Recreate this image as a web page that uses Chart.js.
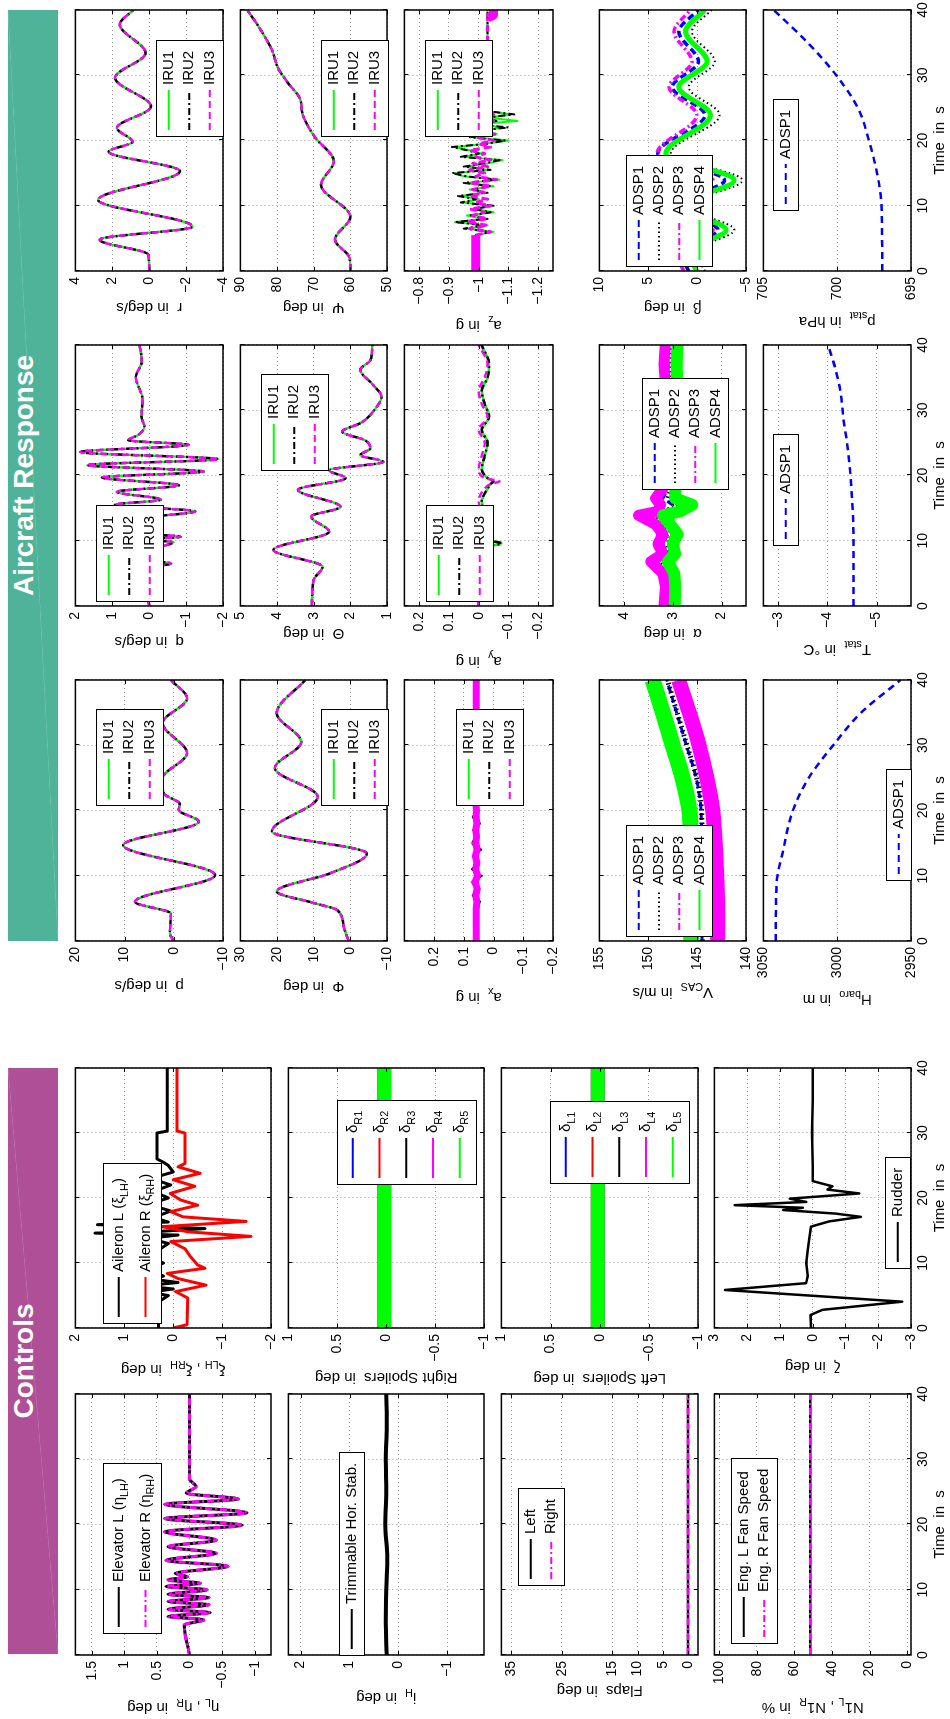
<!DOCTYPE html>
<html>
<head>
<meta charset="utf-8">
<script src="https://cdn.jsdelivr.net/npm/chart.js@4.4.1/dist/chart.umd.min.js"></script>
<style>
html, body { margin:0; padding:0; background:#fff; width:950px; height:1719px; overflow:hidden; }
#land { position:absolute; left:0; top:0; width:1719px; height:950px; transform-origin:0 0; transform:translate(0,1719px) rotate(-90deg); }
#land canvas { position:absolute; }
.ban { position:absolute; top:8px; height:50px; line-height:45px; text-align:center; color:#fff; font:bold 28px "Liberation Sans", Arial, sans-serif; }
.ban.ar { left:778px; width:931px; background:linear-gradient(to bottom right, transparent calc(50% - 0.7px), rgba(255,255,255,0.18) 50%, transparent calc(50% + 0.7px)), #4fb39a; }
.ban.ct { left:65px; width:586px; background:linear-gradient(to bottom right, transparent calc(50% - 0.7px), rgba(255,255,255,0.18) 50%, transparent calc(50% + 0.7px)), #ae4f97; }
</style>
</head>
<body>
<div id="land">
  <div class="ban ar">Aircraft Response</div>
  <div class="ban ct">Controls</div>
</div>
<script>
// ---- data (time in s) ----
const timeTicks = [0, 10, 20, 30, 40];

// aircraft response, right column
const rT = [0, 2.5, 4.8, 6.8, 10.9, 15.3, 18.3, 19.8, 21.9, 25.2, 29.6, 33.4, 37.8, 40];
const rV = [0, 0.05, 2.7, -2.35, 2.77, -1.67, 2.2, 0.9, 1.75, -0.1, 1.85, 0.2, 1.6, 0.87];
const psiT = [0, 2, 4.8, 8.3, 13.2, 16.8, 20.6, 24, 26.5, 28.8, 31, 34, 37, 40];
const psiV = [60, 60.2, 64.2, 60, 68, 64.5, 69.8, 73, 73.8, 77, 79.6, 81.5, 84.5, 88.1];
const azT = [0, 5.5, 6, 6.5, 7, 7.5, 8, 8.5, 9, 9.5, 10, 10.5, 11, 11.5, 12, 12.5, 13, 13.5, 14, 14.5, 15,
  15.5, 16, 16.5, 17, 17.5, 18, 18.5, 19, 19.5, 20, 20.5, 21, 21.5, 22, 22.5, 23, 23.5, 24, 24.5, 25, 38.8, 39.2, 40];
const azIRU1 = [-0.99, -0.99, -1.05, -0.96, -1.03, -0.92, -1.02, -0.96, -1.05, -0.99, -1.04, -0.95,
  -1.0, -0.94, -1.02, -0.97, -1.05, -0.96, -1.07, -0.95, -0.92, -1.03, -0.96, -1.03, -1.08, -0.95,
  -1.01, -0.97, -0.92, -1.02, -1.1, -0.98, -1.06, -1.01, -1.08, -1.0, -1.13, -1.03, -1.11, -1.03, -1.03, -1.03, -1.03, -1.03];
const azIRU2 = [-0.99, -0.99, -1.04, -0.95, -1.02, -0.92, -1.03, -0.97, -1.04, -0.98, -1.05, -0.94,
  -0.99, -0.93, -1.03, -0.98, -1.04, -0.95, -1.06, -0.96, -0.91, -1.04, -0.95, -1.02, -1.07, -0.94,
  -1.0, -0.96, -0.91, -1.03, -1.09, -0.97, -1.05, -1.0, -1.1, -0.99, -1.06, -1.02, -1.12, -1.03, -1.03, -1.03, -1.03, -1.03];
const azIRU3 = [-0.99, -0.99, -1.04, -0.97, -1.03, -0.96, -1.03, -0.98, -1.02, -0.97, -1.04, -0.99,
  -1.03, -0.97, -1.02, -0.98, -1.04, -0.97, -1.06, -0.99, -1.02, -0.97, -1.03, -0.98, -1.04, -0.99,
  -1.02, -0.97, -1.04, -1.0, -1.05, -0.99, -1.06, -1.0, -1.04, -1.01, -1.05, -1.02, -1.05, -1.03, -1.03, -1.03, -1.05, -1.05];
const betaT = [0, 3, 6.3, 10, 13.9, 18, 23.9, 28.2, 32.1, 36.7, 40];
const betaADSP1 = [0.87, 1.7, -2.13, 2.7, -2.8, 4.03, -0.8, 2.53, -0.13, 1.87, -0.13];
const betaADSP2 = [-0.8, 0.2, -3.8, 1.2, -4.63, 2.7, -2.3, 0.87, -1.8, 0.53, -1.47];
const betaADSP3 = [1.37, 2.2, -1.63, 3.2, -1.63, 4.1, 0.03, 2.87, 0.53, 2.37, 0.7];
const betaADSP4 = [0.03, 1.0, -2.97, 2.0, -3.8, 3.2, -1.37, 1.87, -1.03, 1.2, -0.8];
const pstT = [0, 10, 15, 20, 25, 30, 35, 40];
const pstV = [696.95, 697.0, 697.3, 697.85, 698.6, 700.07, 702.0, 704.3];

// aircraft response, middle column
const qT = [0, 2, 4, 5.8, 6.5, 7.2, 8.5, 9.8, 10.2, 10.6, 11.2, 12.3, 13.4, 14.5, 15.5, 16.3,
  17.5, 18.5, 19.7, 20.6, 21.6, 22.5, 23.6, 24.7, 25.4, 26.2, 27.5, 29, 31.6, 35.1, 37.5, 40];
const qV = [0, 0.05, 0.1, 0.2, -0.6, 0.3, 0.1, -0.65, 0.2, -0.85, 0.3, 0.0, 0.21, -1.25, 0.93, -0.32,
  0.88, -0.81, 1.28, -1.48, 1.68, -1.88, 1.88, -1.07, 0.57, 0.3, 0.13, 0.21, 0.18, 0.36, 0.2, 0.26];
const thetaT = [0, 4, 6, 8.6, 11.4, 13.7, 15.2, 17.8, 19.6, 20.8, 22.1, 23.1, 24.2, 25.4, 26.7, 28.1, 30, 32.1, 34, 36.2, 37.7, 40];
const thetaV = [3.05, 3.0, 2.76, 4.1, 2.58, 3.07, 2.27, 3.43, 2.13, 2.58, 1.1, 1.73, 1.45, 1.6, 2.22, 1.7, 1.35, 1.15, 1.4, 1.73, 1.45, 1.4];
const ayT = [0, 3, 6, 8, 9.2, 9.6, 10.1, 12, 14, 16, 18, 18.7, 19.1, 19.6, 21, 23, 25, 27, 29, 31, 33, 35, 37, 40];
const ayIRU12 = [0, 0, -0.01, -0.02, -0.04, -0.077, -0.03, -0.01, -0.02, -0.01, -0.03, -0.04,
  -0.05, -0.03, -0.01, -0.02, -0.03, -0.01, -0.035, -0.02, -0.01, -0.03, -0.035, -0.01];
const ayIRU3 = [0, 0.005, 0, -0.01, -0.02, -0.04, -0.01, 0, -0.01, 0, -0.02, -0.04,
  -0.07, -0.02, 0, -0.01, -0.02, 0, -0.03, -0.01, 0, -0.02, -0.03, 0];
const alphaT = [0, 3, 5, 6.8, 8, 9.5, 11, 12.5, 13.9, 14.5, 15.5, 16.5, 18, 22, 26, 30, 34, 37, 40];
const alphaADSP1 = [3.1, 3.08, 3.12, 3.35, 3.12, 3.2, 3.1, 3.25, 3.55, 3.15, 3.0, 3.2, 3.1, 3.1, 3.1, 3.1, 3.08, 3.1, 3.08];
const alphaADSP2 = [3.05, 3.03, 3.05, 3.25, 3.05, 3.1, 3.0, 3.15, 3.4, 3.05, 2.9, 3.1, 3.05, 3.05, 3.05, 3.05, 3.0, 3.02, 3.0];
const alphaADSP3 = [3.18, 3.15, 3.2, 3.45, 3.2, 3.3, 3.2, 3.35, 3.7, 3.3, 3.25, 3.35, 3.2, 3.2, 3.2, 3.2, 3.15, 3.18, 3.15];
const alphaADSP4 = [2.96, 2.95, 2.97, 3.1, 2.95, 3.0, 2.9, 3.05, 3.2, 2.85, 2.6, 2.95, 2.95, 2.95, 2.95, 2.95, 2.9, 2.92, 2.9];
const tstT = [0, 10, 20, 25, 28.5, 32.6, 36.2, 39.2, 40];
const tstV = [-4.53, -4.53, -4.47, -4.4, -4.33, -4.27, -4.17, -4.05, -4.02];

// aircraft response, left column
const pT = [0, 1.2, 4.2, 6.0, 10.1, 14.7, 18.3, 20.1, 21.0, 22.6, 24.8, 28.8, 33.4, 37.2, 40];
const pV = [0, 0.8, 0.6, 7.9, -8.4, 10.3, -5.07, -1.0, -1.2, 2.0, 2.4, -2.7, 2.3, -2.7, 0.6];
const phiT = [0, 2.2, 4.75, 5.8, 7.6, 10.4, 13.4, 16.8, 22.1, 26.5, 30.5, 34.9, 40];
const phiV = [0.45, 1.8, 3.6, 9.8, 20.1, 5.4, -4.5, 21.4, 8.9, 20.6, 13.4, 20.1, 12.3];
const axT = [0, 5, 6, 7, 8, 9, 10, 11, 12, 13, 14, 15, 16, 17, 18, 19, 20, 21, 22, 25, 30, 35, 40];
const axIRU1 = [0.058, 0.058, 0.047, 0.068, 0.05, 0.072, 0.043, 0.07, 0.052, 0.068, 0.045, 0.072,
  0.052, 0.066, 0.048, 0.068, 0.054, 0.064, 0.056, 0.058, 0.058, 0.058, 0.058];
const axIRU2 = [0.058, 0.058, 0.045, 0.07, 0.048, 0.074, 0.04, 0.072, 0.05, 0.07, 0.042, 0.075,
  0.05, 0.068, 0.046, 0.07, 0.052, 0.066, 0.055, 0.058, 0.058, 0.058, 0.058];
const axIRU3 = [0.058, 0.058, 0.056, 0.06, 0.055, 0.062, 0.054, 0.06, 0.056, 0.061, 0.055, 0.06,
  0.057, 0.06, 0.056, 0.059, 0.057, 0.06, 0.058, 0.058, 0.058, 0.058, 0.058];
const vT = [0, 5, 10, 15, 20, 25, 30, 35, 40];
const vADSP1 = [144.5, 144.5, 144.5, 144.55, 144.6, 145.1, 146.1, 147.1, 148.1];
const vADSP2 = [144.45, 144.45, 144.45, 144.5, 144.55, 145.05, 146.05, 147.05, 148.05];
const vADSP3 = [142.9, 142.9, 143.0, 143.15, 143.4, 144.0, 144.8, 145.8, 146.9];
const vADSP4 = [145.6, 145.6, 145.6, 145.65, 145.8, 146.5, 147.5, 148.5, 149.55];
const hT = [0, 5, 10, 13.4, 20, 25, 30, 35, 40];
const hV = [3041.6, 3041.5, 3040.5, 3037.1, 3030, 3019.3, 3002.7, 2983.8, 2957.1];

// controls
const ailLT = [0, 4, 5, 5.5, 6, 6.5, 7, 7.5, 8, 9, 10, 11, 12, 13, 13.8, 14.3, 14.6, 14.9, 15.3, 15.6,
  15.9, 16.3, 17, 18, 19, 20, 21, 22, 23, 24, 25, 25.5, 26, 30, 30.3, 40];
const ailL = [0.3, 0.3, 0.1, 0.5, 0.0, 0.6, -0.1, 0.4, 0.2, 0.5, 0.2, 0.6, 0.3, 0.1, 0.5, -0.1, 1.6, 0.2, -0.65, 0.3,
  1.55, 0.1, 0.4, 0.05, 0.5, 0.1, 0.4, 0.05, 0.45, 0.0, 0.1, 0.2, 0.33, 0.33, 0.12, 0.12];
const ailRT = [0, 0.5, 4.6, 5.6, 6.6, 7.6, 8.4, 9.2, 9.7, 11, 12.2, 13.3, 14.1, 14.8, 15.6, 16.4, 17.1,
  17.9, 18.9, 19.7, 20.7, 21.8, 22.8, 23.8, 24.8, 25.3, 30.0, 30.3, 40];
const ailR = [0, -0.28, -0.3, -0.05, -0.67, -0.1, 0.12, -0.65, -0.5, -0.35, -0.24, 0.05, -1.59, -0.3, 0.2, -1.49, -0.2,
  0.05, -0.5, -0.15, 0.06, -0.44, 0.0, -0.55, -0.1, -0.24, -0.24, -0.08, -0.08];
const spoilT = [0, 40];
const spoilRight = [0.02, 0.02];
const spoilLeft = [0.02, 0.02];
const rudT = [0, 2, 2.8, 4.05, 5.85, 6.9, 8, 10, 12, 14, 15.6, 16.4, 17.1, 17.6, 18.15, 18.5, 18.9, 19.4, 19.9,
  20.7, 21.3, 21.8, 22.6, 25, 30, 35, 40];
const rudV = [0.05, 0.07, -0.3, -2.73, 2.68, 0.2, 0.15, 0.2, 0.15, 0.1, 0.05, -0.5, -1.47, -0.7, 0.9, 0.3, 2.38, 0.2, 0.7,
  -1.42, -0.45, -0.6, 0.0, 0.0, 0.02, 0.0, 0.0];
const elevT = [0, 4.6, 5.4, 5.9, 6.5, 7.0, 7.7, 8.2, 8.8, 9.3, 10.0, 10.5, 11.0, 11.5, 12.0, 12.5, 13.6, 14.5, 15.6,
  16.6, 17.6, 18.9, 19.9, 20.9, 21.8, 23.1, 23.9, 24.8, 25.8, 27, 40];
const elevV = [0, 0.08, -0.22, 0.33, -0.32, 0.33, -0.3, 0.33, -0.3, 0.33, -0.27, 0.36, -0.17, 0.33, 0.03, 0.22, -0.59, 0.36, -0.41,
  0.33, -0.41, 0.38, -0.81, 0.38, -0.88, 0.38, -0.75, 0.05, -0.1, 0.0, 0.0];
const ihT = [0, 5, 10, 15, 20, 25, 30, 35, 40];
const ihV = [0.24, 0.26, 0.25, 0.23, 0.27, 0.25, 0.26, 0.24, 0.25];
const flapT = [0, 40];
const flapLeft = [0, 0];
const flapRight = [0, 0];
const n1T = [0, 40];
const n1Left = [51.5, 51.5];
const n1Right = [51.5, 51.5];

// ---- styling ----
const FONT = '"Liberation Sans", Arial, Helvetica, sans-serif';
Chart.defaults.font.family = FONT;
Chart.defaults.font.size = 14;
Chart.defaults.color = '#000';

const G = '#00ff00', K = '#000000', M = '#ff00ff', B = '#0000ff', R = '#ff0000';
const DASH = [7, 4], DASHDOT = [7, 3, 2, 3], DOT = [1.5, 3];
const GRID = '#9a9a9a';

function line(label, xs, ys, color, width, dash, more) {
  return Object.assign({
    label: label,
    data: xs.map((x, i) => ({x: x, y: ys[i]})),
    borderColor: color, borderWidth: width, borderDash: dash,
    pointRadius: 0, fill: false, clip: 0,
    cubicInterpolationMode: 'monotone', borderJoinStyle: 'round'
  }, more || {});
}
const sharp = {cubicInterpolationMode: 'default', tension: 0};

function iru(t, v1, v2, v3, w) {
  return [line('IRU1', t, v1, G, w, []), line('IRU2', t, v2, K, w, DASHDOT), line('IRU3', t, v3, M, w, DASH)];
}

// text with _x / _{xx} subscripts
function parts(s) {
  const out = [];
  let buf = '', i = 0;
  while (i < s.length) {
    if (s[i] === '_') {
      if (buf) out.push({t: buf, sub: false});
      buf = '';
      if (s[i + 1] === '{') {
        const j = s.indexOf('}', i);
        out.push({t: s.slice(i + 2, j), sub: true});
        i = j + 1;
      } else {
        out.push({t: s[i + 1], sub: true});
        i += 2;
      }
    } else {
      buf += s[i];
      i++;
    }
  }
  if (buf) out.push({t: buf, sub: false});
  return out;
}
function richWidth(ctx, s, size) {
  let w = 0;
  for (const p of parts(s)) {
    ctx.font = (p.sub ? size * 0.72 : size) + 'px ' + FONT;
    w += ctx.measureText(p.t).width;
  }
  return w;
}
function drawRich(ctx, s, x, y, size) {
  for (const p of parts(s)) {
    ctx.font = (p.sub ? size * 0.72 : size) + 'px ' + FONT;
    ctx.fillText(p.t, x, p.sub ? y + size * 0.38 : y);
    x += ctx.measureText(p.t).width;
  }
}

function drawLegend(chart, L) {
  const ctx = chart.ctx, a = chart.chartArea;
  const items = chart.data.datasets;
  ctx.textBaseline = 'middle';
  ctx.textAlign = 'left';
  const tw = Math.max.apply(null, items.map(d => richWidth(ctx, d.label, 15)));
  const w = Math.round(7 + 40 + 5 + tw + 10), h = Math.round(items.length * L.row + 5);
  const x = Math.round(a.left + L.x), y = Math.round(a.top + L.y);
  ctx.fillStyle = '#fff';
  ctx.fillRect(x, y, w, h);
  ctx.setLineDash([]);
  ctx.strokeStyle = '#000';
  ctx.lineWidth = 1;
  ctx.strokeRect(x + 0.5, y + 0.5, w, h);
  items.forEach((d, i) => {
    const cy = y + 2.5 + L.row * (i + 0.5);
    ctx.strokeStyle = d.borderColor;
    ctx.lineWidth = 2;
    ctx.setLineDash(d.lgDash || d.borderDash || []);
    ctx.beginPath();
    ctx.moveTo(x + 7, cy);
    ctx.lineTo(x + 47, cy);
    ctx.stroke();
    ctx.setLineDash([]);
    ctx.fillStyle = '#000';
    drawRich(ctx, d.label, x + 52, cy, 15);
  });
}

const matlab = {
  id: 'matlab',
  afterDatasetsDraw(chart, args, o) {
    const ctx = chart.ctx, a = chart.chartArea, xs = chart.scales.x, ys = chart.scales.y;
    ctx.save();
    ctx.setLineDash([]);
    ctx.strokeStyle = '#000';
    ctx.lineWidth = 1;
    ctx.beginPath();
    for (const t of xs.ticks) {
      const p = Math.round(xs.getPixelForValue(t.value)) + 0.5;
      ctx.moveTo(p, a.top); ctx.lineTo(p, a.top + 4);
      ctx.moveTo(p, a.bottom); ctx.lineTo(p, a.bottom - 4);
    }
    for (const t of ys.ticks) {
      const p = Math.round(ys.getPixelForValue(t.value)) + 0.5;
      ctx.moveTo(a.left, p); ctx.lineTo(a.left + 4, p);
      ctx.moveTo(a.right, p); ctx.lineTo(a.right - 4, p);
    }
    ctx.stroke();
    ctx.lineWidth = 1.5;
    ctx.strokeRect(a.left, a.top, a.right - a.left, a.bottom - a.top);
    if (o.legend) drawLegend(chart, o.legend);
    ctx.restore();
  },
  afterDraw(chart, args, o) {
    const ctx = chart.ctx, a = chart.chartArea;
    ctx.save();
    ctx.fillStyle = '#000';
    ctx.textBaseline = 'middle';
    ctx.textAlign = 'left';
    if (o.title) {
      const w = richWidth(ctx, o.title, 15);
      ctx.translate(a.left - o.toff, (a.top + a.bottom) / 2);
      ctx.rotate(-Math.PI / 2);
      drawRich(ctx, o.title, -w / 2, 0, 15);
    }
    ctx.restore();
    if (o.xTitle) {
      ctx.save();
      ctx.fillStyle = '#000';
      ctx.font = '15px ' + FONT;
      ctx.textAlign = 'center';
      ctx.textBaseline = 'middle';
      ctx.fillText('Time  in  s', (a.left + a.right) / 2, a.bottom + 29);
      ctx.restore();
    }
  }
};

const fmt = v => (v < 0 ? '\u2212' : '') + Math.abs(v);
const land = document.getElementById('land');

function makePlot(p) {
  const LM = 80, RM = 14, TM = 12, BM = 45;
  const [X, Y, W, H] = p.box;
  const cv = document.createElement('canvas');
  cv.width = W + LM + RM;
  cv.height = H + TM + BM;
  cv.style.left = (X - LM) + 'px';
  cv.style.top = (Y - TM) + 'px';
  cv.style.width = cv.width + 'px';
  cv.style.height = cv.height + 'px';
  land.appendChild(cv);
  p.sets.forEach((d, i) => { d.order = -i; });
  const gridOpts = {color: GRID, lineWidth: 1, drawTicks: false};
  const borderOpts = {display: false, dash: [1, 3]};
  new Chart(cv, {
    type: 'line',
    data: {datasets: p.sets},
    options: {
      responsive: false, animation: false, devicePixelRatio: 1,
      events: [],
      layout: {padding: {left: 0, right: RM, top: TM, bottom: 0}},
      plugins: {
        legend: {display: false}, tooltip: {enabled: false},
        matlab: {title: p.title, toff: p.toff, legend: p.leg, xTitle: !!p.bottom}
      },
      scales: {
        x: {
          type: 'linear', min: 0, max: 40,
          afterBuildTicks: s => { s.ticks = timeTicks.map(v => ({value: v})); },
          afterFit: s => { s.height = BM; },
          ticks: {display: !!p.bottom, padding: 4, maxRotation: 0, autoSkip: false, callback: fmt},
          grid: gridOpts, border: borderOpts
        },
        y: {
          type: 'linear', min: p.y[0], max: p.y[1],
          afterBuildTicks: s => { s.ticks = p.yt.map(v => ({value: v})); },
          afterFit: s => { s.width = LM; },
          ticks: {padding: 6, autoSkip: false, callback: fmt},
          grid: gridOpts, border: borderOpts
        }
      }
    },
    plugins: [matlab]
  });
}

const PLOTS = [
  // Aircraft response, right column
  {box: [1448, 73, 261, 150], y: [-4, 4], yt: [-4, -2, 0, 2, 4], title: 'r  in deg/s', toff: 35.7,
   leg: {x: 134, y: 81, row: 20.5}, sets: iru(rT, rV, rV, rV, 2.4)},
  {box: [1448, 238, 261, 149], y: [50, 90], yt: [50, 60, 70, 80, 90], title: 'Ψ  in deg', toff: 35.7,
   leg: {x: 134, y: 80.7, row: 20.5}, sets: iru(psiT, psiV, psiV, psiV, 2.4)},
  {box: [1448, 402, 261, 151], y: [-1.25, -0.75], yt: [-1.2, -1.1, -1, -0.9, -0.8], title: 'a_z  in g', toff: 54,
   leg: {x: 134, y: 21, row: 20.5}, sets: [
     line('IRU1', azT, azIRU1, G, 2, [], sharp),
     line('IRU2', azT, azIRU2, K, 2, DASHDOT, sharp),
     line('IRU3', azT, azIRU3, M, 3, DASH, Object.assign({}, sharp, {segment: {
       borderWidth: c => (c.p1.parsed.x <= 5.5 || c.p0.parsed.x >= 38.8) ? 9 : 3,
       borderDash: c => (c.p1.parsed.x <= 5.5 || c.p0.parsed.x >= 38.8) ? [] : DASH}}))]},
  {box: [1448, 597, 261, 149], y: [-5, 10], yt: [-5, 0, 5, 10], title: 'β  in deg', toff: 35.7,
   leg: {x: 4.3, y: 26.3, row: 20.3}, sets: [
     line('ADSP1', betaT, betaADSP1, B, 3.5, DASH),
     line('ADSP2', betaT, betaADSP2, K, 2, DOT),
     line('ADSP3', betaT, betaADSP3, M, 3.5, DASHDOT),
     line('ADSP4', betaT, betaADSP4, G, 5, [])]},
  {box: [1448, 761, 261, 150], y: [695, 705], yt: [695, 700, 705], title: 'p_{stat}  in hPa', toff: 50, bottom: true,
   leg: {x: 60, y: 9.7, row: 20.3}, sets: [line('ADSP1', pstT, pstV, B, 2.5, [7, 5])]},

  // Aircraft response, middle column
  {box: [1113, 73, 261, 150], y: [-2, 2], yt: [-2, -1, 0, 1, 2], title: 'q  in deg/s', toff: 34.7,
   leg: {x: 4.3, y: 20.3, row: 20.5}, sets: iru(qT, qV, qV, qV, 2.4)},
  {box: [1113, 238, 261, 149], y: [1, 5], yt: [1, 2, 3, 4, 5], title: 'Θ  in deg', toff: 26.7,
   leg: {x: 135, y: 20.3, row: 20.5}, sets: iru(thetaT, thetaV, thetaV, thetaV, 2.4)},
  {box: [1113, 402, 261, 151], y: [-0.25, 0.25], yt: [-0.2, -0.1, 0, 0.1, 0.2], title: 'a_y  in g', toff: 54.7,
   leg: {x: 4.3, y: 21.3, row: 20.5}, sets: iru(ayT, ayIRU12, ayIRU12, ayIRU3, 2.5)},
  {box: [1113, 597, 261, 149], y: [1.5, 4.5], yt: [2, 3, 4], title: 'α  in deg', toff: 26.7,
   leg: {x: 116, y: 43, row: 20.3}, sets: [
     line('ADSP1', alphaT, alphaADSP1, B, 3, DASH, sharp),
     line('ADSP2', alphaT, alphaADSP2, K, 5, DOT, sharp),
     line('ADSP3', alphaT, alphaADSP3, M, 11, [], Object.assign({lgDash: DASHDOT}, sharp)),
     line('ADSP4', alphaT, alphaADSP4, G, 12, [], sharp)]},
  {box: [1113, 761, 261, 150], y: [-5.7, -2.7], yt: [-5, -4, -3], title: 'T_{stat}  in °C', toff: 43.3, bottom: true,
   leg: {x: 60, y: 9.7, row: 20.3}, sets: [line('ADSP1', tstT, tstV, B, 2.5, [7, 5])]},

  // Aircraft response, left column
  {box: [778, 73, 261, 150], y: [-10, 20], yt: [-10, 0, 10, 20], title: 'p  in deg/s', toff: 44,
   leg: {x: 135.3, y: 20.3, row: 20.5}, sets: iru(pT, pV, pV, pV, 2.4)},
  {box: [778, 238, 261, 149], y: [-10, 30], yt: [-10, 0, 10, 20, 30], title: 'Φ  in deg', toff: 45,
   leg: {x: 135.3, y: 80.7, row: 20.5}, sets: iru(phiT, phiV, phiV, phiV, 2.4)},
  {box: [778, 402, 261, 151], y: [-0.2, 0.3], yt: [-0.2, -0.1, 0, 0.1, 0.2], title: 'a_x  in g', toff: 55.7,
   leg: {x: 135, y: 51.3, row: 20.5}, sets: [
     line('IRU1', axT, axIRU1, G, 3, [], sharp),
     line('IRU2', axT, axIRU2, K, 2, DASHDOT, sharp),
     line('IRU3', axT, axIRU3, M, 7, [], Object.assign({lgDash: DASH}, sharp))]},
  {box: [778, 597, 261, 149], y: [140, 155], yt: [140, 145, 150, 155], title: 'V_{CAS}  in m/s', toff: 50.7,
   leg: {x: 4.3, y: 26.3, row: 20.3}, sets: [
     line('ADSP1', vT, vADSP1, B, 3, DASH),
     line('ADSP2', vT, vADSP2, K, 5, DOT),
     line('ADSP3', vT, vADSP3, M, 15, [], {lgDash: DASHDOT}),
     line('ADSP4', vT, vADSP4, G, 16, [])]},
  {box: [778, 761, 261, 150], y: [2950, 3050], yt: [2950, 3000, 3050], title: 'H_{baro}  in m', toff: 58.3, bottom: true,
   leg: {x: 60.3, y: 122.3, row: 20.3}, sets: [line('ADSP1', hT, hV, B, 2.5, [7, 5])]},

  // Controls, right column
  {box: [391, 73, 260, 198], y: [-2, 2], yt: [-2, -1, 0, 1, 2], title: 'ξ_{LH} , ξ_{RH}  in deg', toff: 41.3,
   leg: {x: 3.7, y: 28, row: 26.7}, sets: [
     line('Aileron L (ξ_{LH})', ailLT, ailL, K, 3, [], sharp),
     line('Aileron R (ξ_{RH})', ailRT, ailR, R, 3, [], sharp)]},
  {box: [391, 286, 260, 198], y: [-1, 1], yt: [-1, -0.5, 0, 0.5, 1], title: 'Right Spoilers  in deg', toff: 49.3,
   leg: {x: 143, y: 48.3, row: 26.7}, sets: [
     line('δ_{R1}', spoilT, spoilRight, B, 13, []),
     line('δ_{R2}', spoilT, spoilRight, R, 13, []),
     line('δ_{R3}', spoilT, spoilRight, K, 13, []),
     line('δ_{R4}', spoilT, spoilRight, M, 14, []),
     line('δ_{R5}', spoilT, spoilRight, G, 14, [])]},
  {box: [391, 499, 260, 199], y: [-1, 1], yt: [-1, -0.5, 0, 0.5, 1], title: 'Left Spoilers  in deg', toff: 50.3,
   leg: {x: 144, y: 48.3, row: 26.7}, sets: [
     line('δ_{L1}', spoilT, spoilLeft, B, 13, []),
     line('δ_{L2}', spoilT, spoilLeft, R, 13, []),
     line('δ_{L3}', spoilT, spoilLeft, K, 13, []),
     line('δ_{L4}', spoilT, spoilLeft, M, 14, []),
     line('δ_{L5}', spoilT, spoilLeft, G, 14, [])]},
  {box: [391, 712, 260, 199], y: [-3, 3], yt: [-3, -2, -1, 0, 1, 2, 3], title: 'ζ  in deg', toff: 38, bottom: true,
   leg: {x: 58.7, y: 170.3, row: 20.3}, sets: [line('Rudder', rudT, rudV, K, 2.5, [], sharp)]},

  // Controls, left column
  {box: [64, 73, 261, 198], y: [-1.25, 1.75], yt: [-1, -0.5, 0, 0.5, 1, 1.5], title: 'η_L , η_R  in deg', toff: 52.3,
   leg: {x: 20.7, y: 28, row: 26.7}, sets: [
     line('Elevator L (η_{LH})', elevT, elevV, K, 3, []),
     line('Elevator R (η_{RH})', elevT, elevV, M, 3, DASHDOT)]},
  {box: [64, 286, 261, 198], y: [-1.75, 2.25], yt: [-1, 0, 1, 2], title: 'i_H  in deg', toff: 42.3,
   leg: {x: -1, y: 50.7, row: 20.3}, sets: [line('Trimmable Hor. Stab.', ihT, ihV, K, 4, [])]},
  {box: [64, 499, 261, 199], y: [-2, 37], yt: [0, 5, 10, 15, 25, 35], title: 'Flaps  in deg', toff: 35,
   leg: {x: 69.3, y: 16.7, row: 20.5}, sets: [
     line('Left', flapT, flapLeft, K, 2.5, []),
     line('Right', flapT, flapRight, M, 2.5, DASHDOT)]},
  {box: [64, 712, 261, 199], y: [-2, 102.5], yt: [0, 20, 40, 60, 80, 100], title: 'N1_L , N1_R  in %', toff: 51.7, bottom: true,
   leg: {x: 11, y: 17, row: 20.5}, sets: [
     line('Eng. L Fan Speed', n1T, n1Left, K, 2.5, []),
     line('Eng. R Fan Speed', n1T, n1Right, M, 2.5, DASHDOT)]}
];

PLOTS.forEach(makePlot);
</script>
</body>
</html>
